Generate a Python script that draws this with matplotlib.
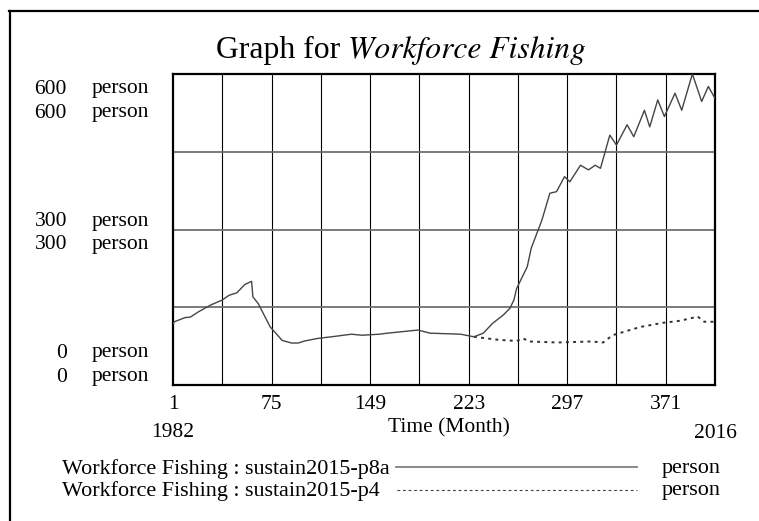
import matplotlib
matplotlib.use("Agg")
import matplotlib.pyplot as plt
from matplotlib.lines import Line2D
from matplotlib.transforms import blended_transform_factory

plt.rcParams["font.family"] = "Liberation Serif"

# shared history (both runs identical up to ~month 227)
months_shared = [1, 2, 10, 14, 20, 29, 38, 43, 49, 55, 60, 61, 65, 74, 83, 90, 95,
                 100, 110, 120, 135, 143, 156, 162, 185, 194, 217, 227]
values_shared = [118, 122, 130, 131, 141, 154, 164, 173, 178, 194, 200, 170, 157, 112,
                 86, 81, 81, 85, 90, 93, 98, 96, 98, 100, 106, 100, 98, 93]

# sustain2015-p8a after the split
months_p8a = [234, 241, 249, 254, 257, 259, 267, 270, 278, 284, 289, 295, 299, 307, 313,
              318, 322, 329, 334, 342, 347, 355, 359, 365, 370, 378, 383, 391, 398, 403, 408]
values_p8a = [100, 119, 135, 148, 164, 186, 228, 264, 318, 370, 373, 402, 392, 424, 415,
              424, 418, 482, 463, 502, 479, 530, 498, 550, 518, 563, 530, 600, 547, 576, 553]

# sustain2015-p4 after the split
months_p4 = [246, 259, 264, 268, 290, 315, 324, 331, 352, 369, 382, 395, 400, 408]
values_p4 = [87, 85, 90, 84, 82, 84, 82, 96, 112, 120, 124, 132, 122, 122]

x_tick_labels = ["1", "", "75", "", "149", "", "223", "", "297", "", "371", ""]
grid_months = [1, 38, 75, 112, 149, 186, 223, 260, 297, 334, 371, 408]
y_grid = [150, 300, 450]
y_labels = [600, 300, 0]
start_year, end_year = "1982", "2016"
legend_names = ["Workforce Fishing : sustain2015-p8a", "Workforce Fishing : sustain2015-p4"]

W, H = 759, 521
FS = 15.5
LEG_FS = 15.9
LINE_COLOR = "#454545"


def fx(px):
    return px / W


def fy(py):
    return 1 - py / H


fig = plt.figure(figsize=(W / 100, H / 100), dpi=100, facecolor="white")
ax = fig.add_axes([fx(173), fy(385), (715 - 173) / W, (385 - 74) / H])

ax.plot(months_shared[-1:] + months_p4, values_shared[-1:] + values_p4,
        color="#303030", lw=1.4, linestyle=(0, (1.5, 2.2)), zorder=3)
ax.plot(months_shared + months_p8a, values_shared + values_p8a,
        color=LINE_COLOR, lw=1.0, zorder=4)

ax.set_xlim(1, 408)
ax.set_ylim(0, 600)
for m in grid_months[1:-1]:
    ax.axvline(m, color="black", lw=0.8, zorder=1)
for v in y_grid:
    ax.axhline(v, color="#707070", lw=1.3, zorder=1)
for s in ax.spines.values():
    s.set_linewidth(1.6)

ax.set_xticks(grid_months)
ax.set_xticklabels(x_tick_labels, fontsize=FS)
ax.tick_params(axis="x", length=0, pad=7)
ax.set_yticks([])

trans = blended_transform_factory(ax.transData, ax.transAxes)
ax.text(1, -0.154, start_year, transform=trans, ha="center", va="center", fontsize=FS)
ax.text(408, -0.155, end_year, transform=trans, ha="center", va="center", fontsize=FS)
ax.text(0.509, -0.138, "Time (Month)", transform=ax.transAxes, ha="center", va="center",
        fontsize=FS)

# y labels, two rows (one per run) for each scale value
ytrans = blended_transform_factory(ax.transAxes, ax.transData)
row_offsets = {600: (-15, -39), 300: (8, -15), 0: (32, 8)}
for v in y_labels:
    for off in row_offsets[v]:
        ax.annotate(f"{v}", (-0.1956, v), xycoords=ytrans, textcoords="offset pixels",
                    xytext=(0, off), ha="right", va="center", fontsize=FS,
                    annotation_clip=False)
        ax.annotate("person", (-0.1494, v), xycoords=ytrans, textcoords="offset pixels",
                    xytext=(0, off), ha="left", va="center", fontsize=FS,
                    annotation_clip=False)

# title: regular + italic part, centred together
t1 = fig.text(0, fy(58), "Graph for ", fontsize=22.8, va="baseline", ha="left")
t2 = fig.text(0, fy(58), "Workforce Fishing", fontsize=22.8, va="baseline", ha="left",
              family="STIXGeneral", style="italic")
fig.canvas.draw()
r = fig.canvas.get_renderer()
w1 = t1.get_window_extent(r).width
w2 = t2.get_window_extent(r).width
left = 401 - (w1 + w2) / 2
t1.set_x(fx(left))
t2.set_x(fx(left + w1))

# legend
fig.text(fx(62), fy(469), legend_names[0], fontsize=LEG_FS, va="center", ha="left")
fig.text(fx(62), fy(491), legend_names[1], fontsize=LEG_FS, va="center", ha="left")
fig.add_artist(Line2D([fx(396), fx(637)], [fy(467), fy(467)], color="#808080", lw=1.3))
fig.add_artist(Line2D([fx(397), fx(637)], [fy(489.5), fy(489.5)], color="#404040", lw=0.8,
                      linestyle=(0, (2.5, 2.5))))
fig.text(fx(662), fy(469), "person", fontsize=LEG_FS, va="center", ha="left")
fig.text(fx(662), fy(491), "person", fontsize=LEG_FS, va="center", ha="left")

# outer frame (top and left edges)
fig.add_artist(Line2D([fx(9), 1], [fy(10.5), fy(10.5)], color="black", lw=1.6))
fig.add_artist(Line2D([fx(9.5), fx(9.5)], [fy(10.5), 0], color="black", lw=1.6))

fig.savefig("out.png", dpi=100, facecolor="white")
